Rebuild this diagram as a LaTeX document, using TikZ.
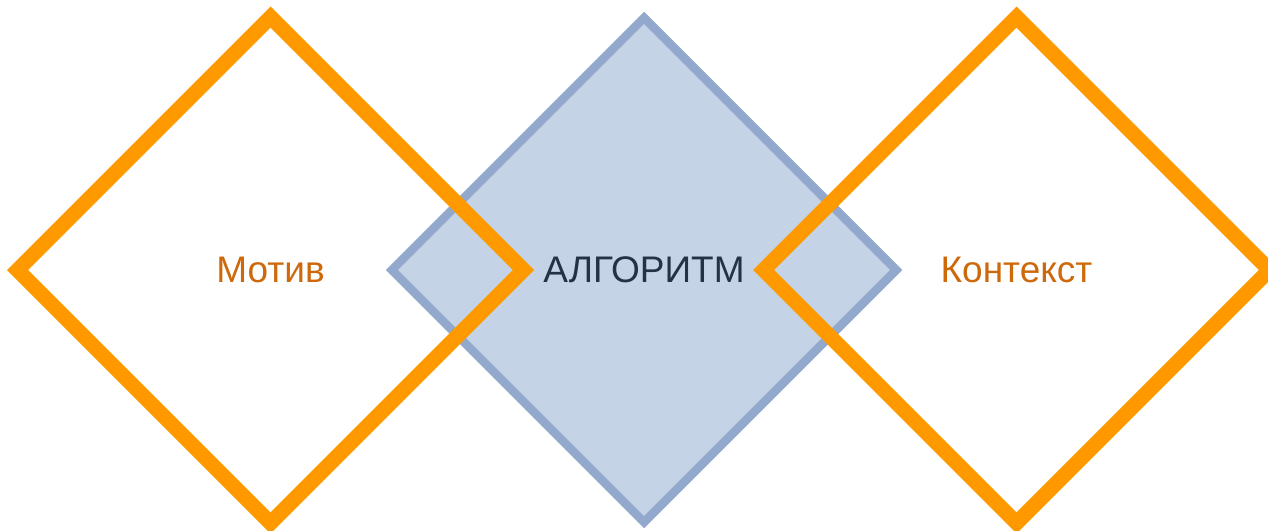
\documentclass[tikz,border=0pt]{standalone}
\definecolor{RhombOrange}{RGB}{255,153,0}
\definecolor{LabelOrange}{RGB}{205,105,10}
\definecolor{RhombBlue}{RGB}{197,211,231}
\definecolor{EdgeBlue}{RGB}{146,168,204}
\definecolor{LabelDark}{RGB}{37,50,70}
\usepackage{fontspec}
\setmainfont{Liberation Sans}
\usepackage{tikz}
\usetikzlibrary{shapes.geometric}

\begin{document}
\begin{tikzpicture}[x=1pt,y=-1pt,
        rhomb/.style={diamond,aspect=1,minimum width=512pt,minimum height=512pt,
                      inner sep=0pt,line join=miter,font=\fontsize{37}{44}\selectfont},
        side/.style={rhomb,draw=RhombOrange,line width=15pt,text=LabelOrange},
        core/.style={rhomb,draw=EdgeBlue,fill=RhombBlue,line width=8.5pt,text=LabelDark,
                     minimum width=508pt,minimum height=508pt}]
        \useasboundingbox (0,0) rectangle (1268,530);

        % middle one first, the orange frames lie over it
        \node[core] (algo) at (644,270) {АЛГОРИТМ};
        \node[side] (motiv) at (270.5,270) {Мотив};
        \node[side] (kontekst) at (1016.5,270) {Контекст};
      \end{tikzpicture}
\end{document}
